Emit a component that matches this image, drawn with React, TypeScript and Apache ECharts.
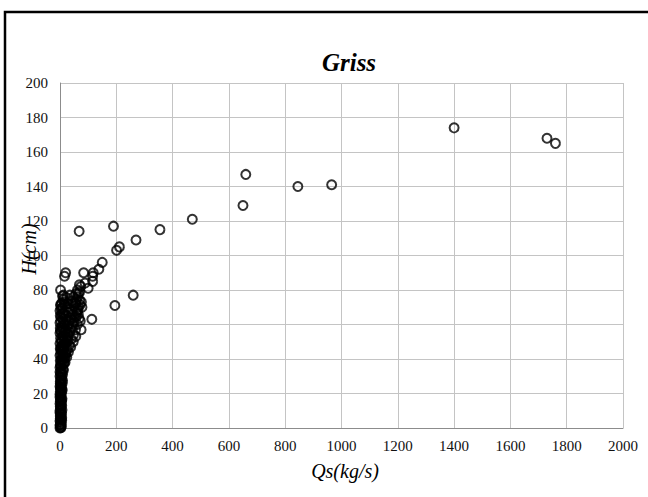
import React, { useEffect, useRef } from "react";
import * as echarts from "echarts";

// Sediment discharge Qs (kg/s) vs. flow depth H (cm)
const outlierQs = [1400, 1730, 1760, 965, 845, 660, 650, 470, 355, 270, 211, 201, 190, 68, 150, 138, 118, 116, 116, 84, 20, 16, 2, 12, 69, 89, 100, 260, 195, 113, 76, 75, 56, 47, 38, 30, 24, 18];
const outlierH = [174, 168, 165, 141, 140, 147, 129, 121, 115, 109, 105, 103, 117, 114, 96, 92, 90, 88, 85, 90, 90, 88, 80, 77, 83, 84, 81, 77, 71, 63, 73, 57, 53, 50, 47, 44, 41, 38];

const clusterQs = [0, 2, 5, 1, 4, 0, 3, 6, 1, 2, 5, 0, 3, 1, 6, 0, 4, 2, 7, 0, 3, 5, 1, 2, 6, 0, 4, 8, 1, 3, 6, 0, 9, 2, 5, 11, 0, 3, 8, 13, 1, 5, 16, 10, 0, 3, 20, 7, 13, 26, 1, 4, 10, 18, 33, 0, 6, 14, 24, 40, 2, 9, 30, 48, 0, 4, 12, 20, 38, 55, 1, 7, 16, 28, 45, 62, 0, 3, 10, 22, 35, 52, 68, 1, 6, 14, 30, 44, 60, 0, 4, 9, 25, 50, 65, 2, 6, 15, 40, 58, 70, 63, 66, 62, 70, 72, 65, 60, 55, 78];
const clusterH = [0, 0.5, 1, 2, 3, 4, 5, 6, 7, 8.5, 9, 10, 11, 12.5, 13, 14, 15, 16.5, 17, 18, 19, 20, 21, 22.5, 23, 24, 25, 26, 27, 28, 29, 30, 31, 32, 33, 34, 35, 36, 37, 38, 39, 40, 40.5, 41, 42, 43, 43, 44, 45, 45.5, 46, 47, 48, 48.5, 48, 49, 50, 51, 51, 51.5, 52, 53, 54, 54, 55, 56, 57, 57, 57.5, 57, 58, 59, 60, 60, 60.5, 60, 61, 62, 63, 63, 64, 64, 63.5, 65, 66, 66, 67, 67.5, 67, 68, 69, 70, 70, 70.5, 70, 71.5, 72.5, 73, 73.5, 74, 74, 76, 78, 80, 79, 62, 66, 68, 72, 70];

// extra measurements packed near Qs ≈ 0
const denseQs = [3, 0, 4, 2, 6, 1, 3, 5, 0, 7, 2, 4, 1, 6, 3, 0, 5, 8, 2, 4, 1, 9, 3, 6, 0, 12, 5, 2, 15, 8, 4, 18, 11, 6, 22, 3, 14, 9, 28, 19, 5, 25, 12, 35, 2, 17, 42, 8, 26, 50, 13, 33, 58, 4, 21, 45, 11, 37, 64, 7, 18, 29, 54, 3, 12, 48, 24, 71, 9, 35, 57, 74];
const denseH = [0.2, 1.5, 2.2, 3.5, 4.5, 5.5, 6.5, 7.8, 8.8, 10.5, 11.5, 13.5, 15.5, 16, 17.5, 19.5, 21.5, 22, 23.5, 25.5, 26, 27.5, 29.5, 31.5, 32.5, 33.5, 34.5, 36.5, 37.5, 38.5, 39.5, 41.5, 42.5, 44.5, 44.2, 45.5, 46.5, 47.5, 50.2, 49.5, 50.5, 52.5, 53.5, 55.5, 56.5, 55.5, 58.5, 58, 59, 61.5, 61.5, 62, 64.5, 64, 65.5, 65.5, 66.5, 69, 68.5, 69.5, 71.5, 72, 72.5, 71, 74.5, 76, 75.5, 71.5, 76.5, 77, 78, 82];

const xTicks = [0, 200, 400, 600, 800, 1000, 1200, 1400, 1600, 1800, 2000];
const yTicks = [0, 20, 40, 60, 80, 100, 120, 140, 160, 180, 200];

export default function App() {
  const ref = useRef<HTMLDivElement>(null);
  useEffect(() => {
    if (!ref.current) return;
    const chart = echarts.init(ref.current, null, { renderer: "svg" });
    const data: number[][] = [];
    clusterQs.forEach((q, i) => data.push([q, clusterH[i]]));
    denseQs.forEach((q, i) => data.push([q, denseH[i]]));
    outlierQs.forEach((q, i) => data.push([q, outlierH[i]]));
    const serif = "Liberation Serif";
    chart.setOption({
      animation: false,
      backgroundColor: "#fff",
      textStyle: { fontFamily: serif },
      grid: { left: 60, right: 25, top: 83, bottom: 69, containLabel: false },
      xAxis: {
        type: "value",
        min: xTicks[0],
        max: xTicks[xTicks.length - 1],
        interval: 200,
        axisLine: { show: true, lineStyle: { color: "#8c8c8c", width: 1 } },
        axisTick: { show: false },
        splitLine: { show: true, lineStyle: { color: "#c4c4c4", width: 1 } },
        axisLabel: {
          color: "#111",
          fontFamily: serif,
          fontSize: 15,
          margin: 10,
          formatter: (v: number) => String(v),
        },
      },
      yAxis: {
        type: "value",
        min: yTicks[0],
        max: yTicks[yTicks.length - 1],
        interval: 20,
        axisLine: { show: true, lineStyle: { color: "#8c8c8c", width: 1 } },
        axisTick: { show: false },
        splitLine: { show: true, lineStyle: { color: "#c4c4c4", width: 1 } },
        axisLabel: {
          color: "#111",
          fontFamily: serif,
          fontSize: 15,
          margin: 12,
          formatter: (v: number) => String(v),
        },
      },
      series: [
        {
          type: "scatter",
          data,
          symbol: "circle",
          symbolSize: 9,
          itemStyle: { color: "rgba(255,255,255,0)", borderColor: "#000", borderWidth: 2 },
        },
      ],
      graphic: [
        {
          type: "rect",
          shape: { x: 5, y: 12, width: 700, height: 600 },
          style: { fill: "none", stroke: "#000", lineWidth: 2.5 },
          silent: true,
        },
        {
          type: "text",
          x: 349,
          y: 62,
          style: {
            text: "Griss",
            fontFamily: serif,
            fontSize: 25,
            fontWeight: "bold",
            fontStyle: "italic",
            fill: "#000",
            textAlign: "center",
            textVerticalAlign: "middle",
          },
        },
        {
          type: "text",
          x: 345,
          y: 471,
          style: {
            text: "Qs(kg/s)",
            fontFamily: serif,
            fontSize: 20,
            fontStyle: "italic",
            fill: "#000",
            textAlign: "center",
            textVerticalAlign: "middle",
          },
        },
        {
          type: "text",
          x: 29,
          y: 249,
          rotation: Math.PI / 2,
          style: {
            text: "H(cm)",
            fontFamily: serif,
            fontSize: 20,
            fontStyle: "italic",
            fill: "#000",
            textAlign: "center",
            textVerticalAlign: "middle",
          },
        },
      ],
    });
    return () => chart.dispose();
  }, []);
  return (
    <div
      ref={ref}
      style={{ position: "fixed", left: 0, top: 0, width: 648, height: 497, background: "#fff" }}
    />
  );
}
